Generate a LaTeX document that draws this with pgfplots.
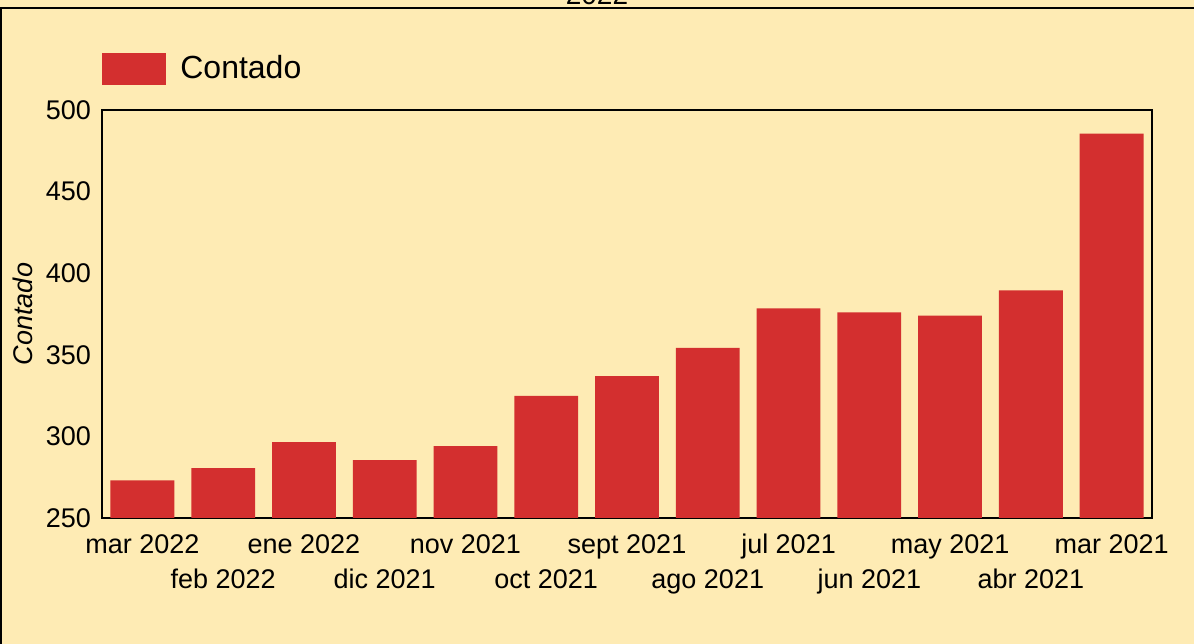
\documentclass[border=0pt]{standalone}
\usepackage{fontspec}
\setmainfont{Liberation Sans}
\usepackage{pgfplots}
\pgfplotsset{compat=1.18}
\definecolor{bgcol}{RGB}{254,235,180}
\definecolor{barred}{RGB}{211,47,47}

\begin{document}
\begin{tikzpicture}
  % background and page frame
  \fill[bgcol] (0,0) rectangle (597bp,322bp);
  \draw[line width=1bp] (0.5bp,-10bp) |- (610bp,318bp);
  \node[anchor=base, font=\fontsize{14bp}{16bp}\selectfont] at (298.5bp,319.5bp) {2022};

  \begin{axis}[
    at={(51bp,63bp)}, anchor=south west,
    scale only axis, width=525bp, height=204bp,
    axis line style={line width=0.75bp},
    xmin=-0.5, xmax=12.5,
    ymin=250, ymax=500,
    ytick={250,300,...,500},
    major tick length=0pt,
    xtick={0,2,4,6,8,10,12},
    xticklabels={mar 2022, ene 2022, nov 2021, sept 2021, jul 2021, may 2021, mar 2021},
    extra x ticks={1,3,5,7,9,11},
    extra x tick labels={feb 2022, dic 2021, oct 2021, ago 2021, jun 2021, abr 2021},
    extra x tick style={xticklabel style={yshift=-17.5bp}},
    xticklabel style={font=\fontsize{13.5bp}{15bp}\selectfont, yshift=-4bp,
                      text height=10bp, text depth=3bp},
    yticklabel style={font=\fontsize{13.5bp}{15bp}\selectfont, xshift=-2bp},
    /pgf/number format/assume math mode=true,
    ylabel={Contado},
    ylabel style={at={(axis description cs:-0.0752,0.5)}, anchor=center,
                  font=\itshape\fontsize{13.5bp}{15bp}\selectfont},
    legend style={at={(0,1)}, anchor=south west, yshift=10bp, xshift=-3bp,
                  draw=none, fill=none, font=\fontsize{16bp}{18bp}\selectfont,
                  /tikz/every odd column/.append style={column sep=5bp}},
    legend cell align=left,
    legend image code/.code={\fill[#1] (0bp,-8bp) rectangle (32bp,8bp);},
  ]
  \addplot[ybar, bar width=0.79, fill=barred, draw=none] coordinates {
    (0,273) (1,280.5) (2,296.5) (3,285.5) (4,294) (5,324.8) (6,337)
    (7,354.2) (8,378.5) (9,376) (10,374) (11,389.5) (12,485.5)
  };
  \addlegendentry{Contado}
  \end{axis}

  \pgfresetboundingbox
  \useasboundingbox (0,0) rectangle (597bp,322bp);
\end{tikzpicture}
\end{document}
